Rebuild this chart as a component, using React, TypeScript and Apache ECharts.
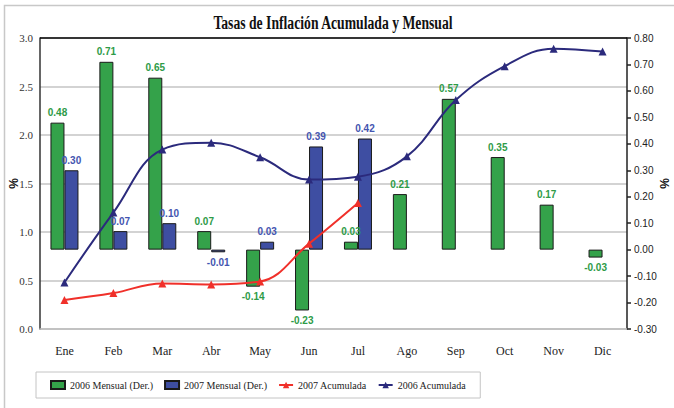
import React, { useEffect, useRef } from "react";
import * as echarts from "echarts";

const categories = ["Ene", "Feb", "Mar", "Abr", "May", "Jun", "Jul", "Ago", "Sep", "Oct", "Nov", "Dic"];
const mensual2006 = [0.48, 0.71, 0.65, 0.07, -0.14, -0.23, 0.03, 0.21, 0.57, 0.35, 0.17, -0.03];
const mensual2007 = [0.3, 0.07, 0.1, -0.01, 0.03, 0.39, 0.42];
const acumulada2007 = [0.3, 0.37, 0.47, 0.46, 0.49, 0.88, 1.3];
const acumulada2006 = [0.48, 1.2, 1.85, 1.92, 1.77, 1.54, 1.57, 1.78, 2.36, 2.71, 2.89, 2.86];

const GREEN = "#34a24a";
const GREEN_TXT = "#2e9b47";
const BLUE = "#3e4ea2";
const BLUE_TXT = "#4455b0";
const NAVY = "#2b2a7c";
const RED = "#f0302a";
const SERIF = "Liberation Serif";
const SANS = "Liberation Sans";

const barData = (arr: number[]) =>
  arr.map((v) => ({ value: v, label: { position: v < 0 ? "bottom" : "top" } }));

export default function App() {
  const ref = useRef<HTMLDivElement>(null);
  useEffect(() => {
    if (!ref.current) return;
    const chart = echarts.init(ref.current, null, { renderer: "svg" });
    const barLabel = (color: string) => ({
      show: true,
      color,
      fontWeight: "bold",
      fontSize: 10,
      fontFamily: SANS,
      distance: 5,
      formatter: (p: any) => Number(p.value).toFixed(2),
    });
    chart.setOption({
      animation: false,
      backgroundColor: "#ffffff",
      grid: { left: 40, right: 47, top: 38, bottom: 79, containLabel: false, outerBoundsMode: "none" },
      graphic: [
        {
          type: "rect",
          shape: { x: 4.5, y: 5.5, width: 700, height: 450 },
          style: { fill: "none", stroke: "#c8c8c8", lineWidth: 1.5 },
          silent: true,
        },
        {
          type: "text",
          x: 333,
          y: 23,
          scaleX: 0.72,
          style: {
            text: "Tasas de Inflación Acumulada y Mensual",
            fill: "#111",
            font: "bold 19px 'Liberation Serif', 'Times New Roman', serif",
            align: "center",
            verticalAlign: "middle",
          },
        },
        {
          type: "line",
          shape: { x1: 40, y1: 38, x2: 627, y2: 38 },
          style: { stroke: "#000", lineWidth: 1.5 },
          z: 10,
        },
      ],
      legend: {
        left: 36,
        top: 372,
        padding: [8, 14],
        itemGap: 11,
        itemWidth: 14,
        itemHeight: 8,
        borderColor: "#c4c4c4",
        borderWidth: 1,
        textStyle: { fontFamily: SERIF, fontSize: 10, color: "#222" },
        data: [
          { name: "2006 Mensual (Der.)", icon: "rect" },
          { name: "2007 Mensual (Der.)", icon: "rect" },
          { name: "2007 Acumulada" },
          { name: "2006 Acumulada" },
        ],
      },
      xAxis: {
        type: "category",
        data: categories,
        axisLine: { show: true, lineStyle: { color: "#bdbdbd", width: 1.5 } },
        axisTick: { show: false },
        axisLabel: {
          margin: 16,
          color: "#222",
          fontSize: 12,
          fontFamily: SERIF,
        },
      },
      yAxis: [
        {
          type: "value",
          min: 0,
          max: 3,
          interval: 0.5,
          name: "%",
          nameLocation: "middle",
          nameRotate: 90,
          nameGap: 20,
          nameMoveOverlap: false,
          nameTextStyle: { fontWeight: "bold", fontSize: 12, color: "#111", fontFamily: SANS },
          axisLine: { show: true, lineStyle: { color: "#333", width: 1.5 } },
          axisTick: { show: false },
          splitLine: { show: true, lineStyle: { color: "#c4c4c4", width: 1.5 } },
          axisLabel: {
            margin: 7,
            color: "#333",
            fontSize: 11,
            fontFamily: SERIF,
            formatter: (v: number) => v.toFixed(1),
          },
        },
        {
          type: "value",
          min: -0.3,
          max: 0.8,
          interval: 0.1,
          position: "right",
          name: "%",
          nameLocation: "middle",
          nameRotate: 90,
          nameGap: 32,
          nameMoveOverlap: false,
          nameTextStyle: { fontWeight: "bold", fontSize: 12, color: "#111", fontFamily: SANS },
          axisLine: { show: true, lineStyle: { color: "#222", width: 1.5 } },
          axisTick: { show: true, length: 4, lineStyle: { color: "#222", width: 1.5 } },
          splitLine: { show: false },
          axisLabel: {
            margin: 7,
            color: "#222",
            fontSize: 10,
            fontFamily: SANS,
            formatter: (v: number) => v.toFixed(2),
          },
        },
      ],
      series: [
        {
          name: "2006 Mensual (Der.)",
          type: "bar",
          yAxisIndex: 1,
          barWidth: 14,
          barGap: "0%",
          data: barData(mensual2006),
          itemStyle: { color: GREEN, borderColor: "#1a1a1a", borderWidth: 1 },
          label: barLabel(GREEN_TXT),
        },
        {
          name: "2007 Mensual (Der.)",
          type: "bar",
          yAxisIndex: 1,
          barWidth: 14,
          barGap: "0%",
          data: barData(mensual2007),
          itemStyle: { color: BLUE, borderColor: "#1a1a1a", borderWidth: 1 },
          label: barLabel(BLUE_TXT),
        },
        {
          name: "2007 Acumulada",
          type: "line",
          yAxisIndex: 0,
          data: acumulada2007,
          smooth: 0.4,
          symbol: "triangle",
          symbolSize: 8,
          lineStyle: { color: RED, width: 2 },
          itemStyle: { color: RED },
          z: 5,
        },
        {
          name: "2006 Acumulada",
          type: "line",
          yAxisIndex: 0,
          data: acumulada2006,
          smooth: 0.4,
          symbol: "triangle",
          symbolSize: 8,
          lineStyle: { color: NAVY, width: 2 },
          itemStyle: { color: NAVY },
          z: 5,
        },
      ],
    });
    return () => chart.dispose();
  }, []);
  return <div ref={ref} style={{ width: 674, height: 408, position: "absolute", left: 0, top: 0 }} />;
}
